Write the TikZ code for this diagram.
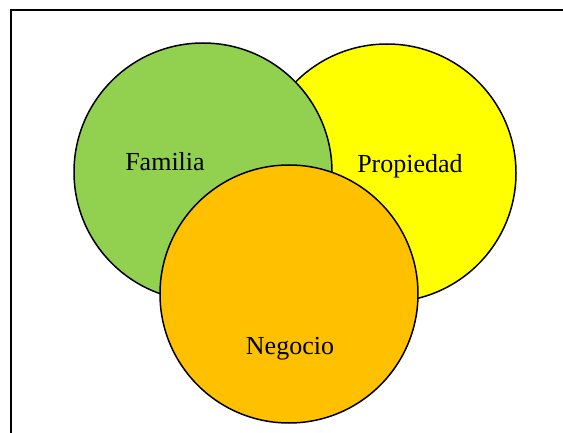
\documentclass[tikz,border=0pt]{standalone}
\usepackage{fontspec}
\setmainfont{Liberation Serif}
\definecolor{famgreen}{HTML}{92D050}
\definecolor{propyellow}{HTML}{FFFF00}
\definecolor{negorange}{HTML}{FFC000}
\begin{document}
\begin{tikzpicture}[x=1pt,y=-1pt,
  setcircle/.style={circle, draw=black, line width=1.5pt, inner sep=0pt, minimum size=258pt},
  setlabel/.style={font=\fontsize{26}{30}\selectfont, inner sep=0pt, anchor=base}]
\useasboundingbox (0,0) rectangle (563,433);
\clip (0,0) rectangle (563,433);
\coordinate (fbl) at (11,460);
\coordinate (ftl) at (11,10);
\coordinate (ftr) at (600,10);
\draw[line width=2pt] (fbl) -- (ftl) -- (ftr);
\node[setcircle, fill=propyellow] (prop) at (387,173) {};
\node[setcircle, fill=famgreen] (fam) at (203,172) {};
\node[setcircle, fill=negorange] (neg) at (289,294) {};
\node[setlabel] (tfam) at (165,171) {Familia};
\node[setlabel] (tprop) at (410,173) {Propiedad};
\node[setlabel] (tneg) at (290,354) {Negocio};
\end{tikzpicture}
\end{document}
